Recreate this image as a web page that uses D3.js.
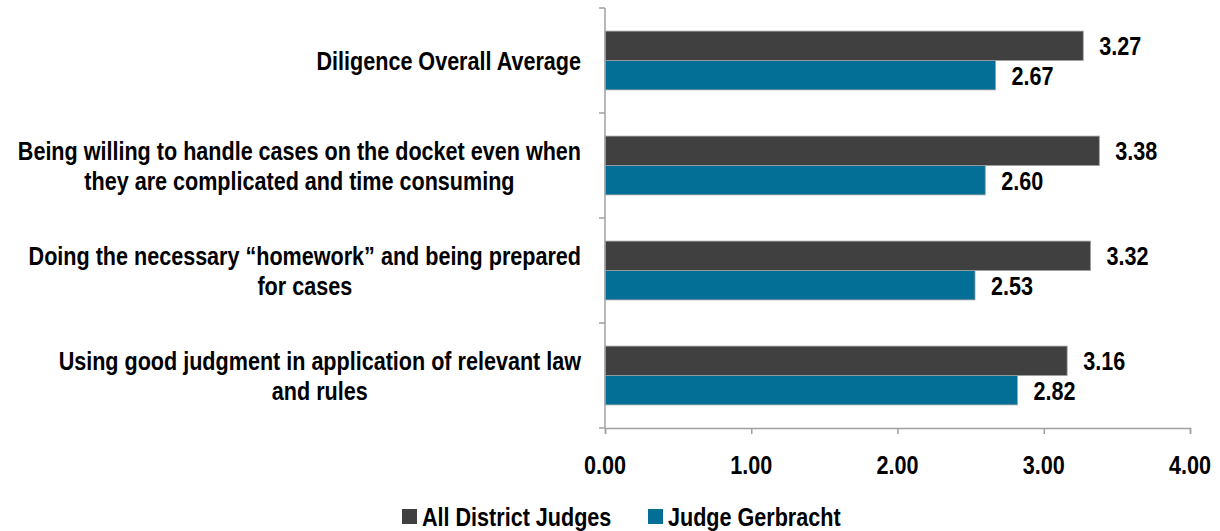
<!DOCTYPE html>
<html>
<head>
<meta charset="utf-8">
<script src="https://cdn.jsdelivr.net/npm/d3@7"></script>
<style>
  body { margin: 0; background: #fff; }
  #chart { width: 1220px; height: 531px; }
  text { font-family: "Liberation Sans", Arial, sans-serif; font-weight: bold; fill: #000; font-size: 26px; }
</style>
</head>
<body>
<div id="chart"></div>
<script>
var categories = [
  ["Diligence Overall Average"],
  ["Being willing to handle cases on the docket even when", "they are complicated and time consuming"],
  ["Doing the necessary \u201chomework\u201d and being prepared", "for cases"],
  ["Using good judgment in application of relevant law", "and rules"]
];
var seriesNames = ["All District Judges", "Judge Gerbracht"];
var allJudges = [3.27, 3.38, 3.32, 3.16];
var gerbracht = [2.67, 2.60, 2.53, 2.82];
var xTicks = [0, 1, 2, 3, 4];
var colors = ["#404040", "#036e96"];

var width = 1220, height = 531;
var margin = {top: 8, left: 605, right: 30, bottom: 103};
var narrow = 0.83; // squeeze to look like a condensed face

var svg = d3.select("#chart").append("svg")
  .attr("width", width)
  .attr("height", height);

function label(x, y, str, anchor) {
  return svg.append("text")
    .attr("transform", "translate(" + x + "," + y + ") scale(" + narrow + ",1)")
    .attr("text-anchor", anchor || "start")
    .attr("dy", "0.36em")
    .text(str);
}

var xScale = d3.scaleLinear()
  .domain([0, 4])
  .range([margin.left, 1190]);

var yScale = d3.scaleBand()
  .domain(d3.range(categories.length))
  .range([margin.top, height - margin.bottom])
  .paddingInner(0.44)
  .paddingOuter(0.22);

var inner = d3.scaleBand()
  .domain([0, 1])
  .range([0, yScale.bandwidth()]);

var step = yScale.step();

// bars
var seriesData = [allJudges, gerbracht];
seriesData.forEach(function(vals, s) {
  svg.selectAll(".bar" + s)
    .data(vals)
    .enter().append("rect")
    .attr("x", xScale(0))
    .attr("y", function(d, i) { return yScale(i) + inner(s); })
    .attr("width", function(d) { return xScale(d) - xScale(0); })
    .attr("height", inner.bandwidth())
    .attr("fill", colors[s])
    .attr("stroke", "#a0a0a0")
    .attr("stroke-width", 0.8);

  vals.forEach(function(d, i) {
    label(xScale(d) + 16, yScale(i) + inner(s) + inner.bandwidth() / 2, d.toFixed(2));
  });
});

// y axis line + ticks between categories
var axisColor = "#a0a0a0";
var yTop = margin.top, yBot = height - margin.bottom;
svg.append("line")
  .attr("x1", xScale(0)).attr("x2", xScale(0))
  .attr("y1", yTop).attr("y2", yBot)
  .attr("stroke", axisColor).attr("stroke-width", 1.5);
d3.range(categories.length + 1).forEach(function(i) {
  var yy = yTop + i * step;
  svg.append("line")
    .attr("x1", xScale(0) - 6).attr("x2", xScale(0))
    .attr("y1", yy).attr("y2", yy)
    .attr("stroke", axisColor).attr("stroke-width", 1.5);
});

// x axis
var xAxis = svg.append("g")
  .attr("transform", "translate(0," + yBot + ")")
  .call(d3.axisBottom(xScale).tickValues(xTicks).tickSize(6).tickFormat(""));
xAxis.select(".domain").attr("stroke", axisColor).attr("stroke-width", 1.5);
xAxis.selectAll(".tick line").attr("stroke", axisColor).attr("stroke-width", 1.5);
xTicks.forEach(function(t) {
  label(xScale(t), yBot + 37, d3.format(".2f")(t), "middle");
});

// category labels: block right-aligned, lines centred within it
var labelRight = 581, lh = 30;
categories.forEach(function(lines, i) {
  var cy = yTop + i * step + step / 2;
  var texts = lines.map(function(line, j) {
    return label(0, cy + (j - (lines.length - 1) / 2) * lh, line, "middle");
  });
  var maxW = d3.max(texts, function(t) { return t.node().getComputedTextLength(); }) * narrow;
  var cx = labelRight - maxW / 2;
  texts.forEach(function(t, j) {
    t.attr("transform", "translate(" + cx + "," + (cy + (j - (lines.length - 1) / 2) * lh) + ") scale(" + narrow + ",1)");
  });
});

// legend
var legendX = [402, 648];
seriesNames.forEach(function(name, s) {
  svg.append("rect")
    .attr("x", legendX[s]).attr("y", 509)
    .attr("width", 15).attr("height", 15)
    .attr("fill", colors[s]);
  label(legendX[s] + 20, 517, name);
});
</script>
</body>
</html>
